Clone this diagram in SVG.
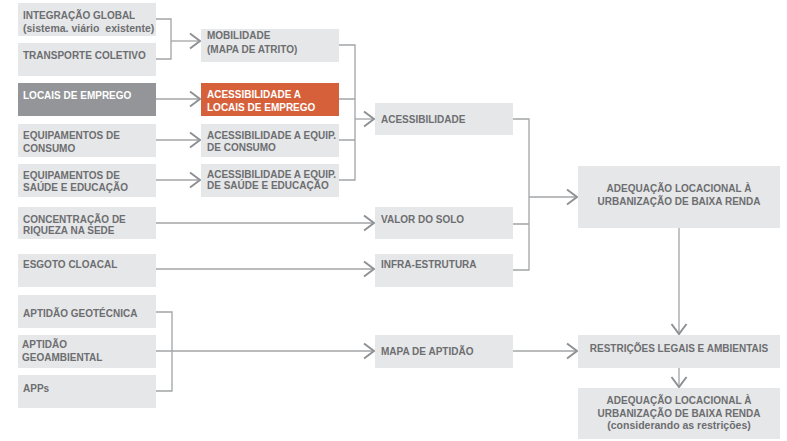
<svg xmlns="http://www.w3.org/2000/svg" width="787" height="441" viewBox="0 0 787 441">
<defs>
<style>
.b{fill:#e6e7e8}
.d{fill:#939598}
.o{fill:#d5603a}
text{font-family:"Liberation Sans",Arial,sans-serif;font-weight:bold;font-size:10px;fill:#6d6e71}
.w{fill:#ffffff}
.s{font-size:10.5px}
.c{text-anchor:middle}
.ln{fill:none;stroke:#a2a4a7;stroke-width:1.3}
.ar{fill:none;stroke:#a2a4a7;stroke-width:1.3;marker-end:url(#chev)}
</style>
<marker id="chev" markerUnits="userSpaceOnUse" markerWidth="14" markerHeight="18" refX="11" refY="8" orient="auto" overflow="visible">
<path d="M1,0.5 L11,8 L1,15.5" fill="none" stroke="#8f9194" stroke-width="2"/>
</marker>
</defs>
<rect width="787" height="441" fill="#ffffff"/>

<g id="connectors">
<path class="ln" d="M156,19 H171 V59 H156"/>
<path class="ar" d="M171,41 H200"/>
<path class="ar" d="M156,99 H200"/>
<path class="ar" d="M156,140 H200"/>
<path class="ar" d="M156,180 H200"/>
<path class="ln" d="M339,45 H355 V180 H339 M339,99 H355 M339,140 H355"/>
<path class="ar" d="M355,119 H374"/>
<path class="ar" d="M156,223 H374"/>
<path class="ar" d="M156,269 H374"/>
<path class="ln" d="M156,312 H172 V391 H156"/>
<path class="ar" d="M156,351 H374"/>
<path class="ln" d="M513,119 H529 V270 H513 M513,224 H529"/>
<path class="ar" d="M529,197 H577"/>
<path class="ar" d="M679,228 V334"/>
<path class="ar" d="M513,351 H577"/>
<path class="ar" d="M679,368 V387"/>
</g>

<g id="integracao-global"><rect class="b" x="18" y="3" width="138" height="33"/><text x="23" y="19">INTEGRAÇÃO GLOBAL</text><text class="s" x="23" y="32" xml:space="preserve">(sistema. viário  existente)</text></g>
<g id="transporte-coletivo"><rect class="b" x="18" y="43" width="138" height="33"/><text x="23" y="59">TRANSPORTE COLETIVO</text></g>
<g id="locais-emprego"><rect class="d" x="18" y="83" width="138" height="33"/><text class="w" x="23" y="99">LOCAIS DE EMPREGO</text></g>
<g id="equip-consumo"><rect class="b" x="18" y="124" width="138" height="33"/><text x="23" y="139">EQUIPAMENTOS DE</text><text x="23" y="152">CONSUMO</text></g>
<g id="equip-saude"><rect class="b" x="18" y="164" width="138" height="33"/><text x="23" y="179">EQUIPAMENTOS DE</text><text x="23" y="191">SAÚDE E EDUCAÇÃO</text></g>
<g id="concentracao-riqueza"><rect class="b" x="18" y="207" width="138" height="32"/><text x="23" y="223">CONCENTRAÇÃO DE</text><text x="23" y="234">RIQUEZA NA SEDE</text></g>
<g id="esgoto-cloacal"><rect class="b" x="18" y="254" width="138" height="33"/><text x="23" y="268">ESGOTO CLOACAL</text></g>
<g id="aptidao-geotecnica"><rect class="b" x="18" y="295" width="138" height="33"/><text x="23" y="317">APTIDÃO GEOTÉCNICA</text></g>
<g id="aptidao-geoambiental"><rect class="b" x="18" y="335" width="138" height="33"/><text x="22" y="348">APTIDÃO</text><text x="22" y="361">GEOAMBIENTAL</text></g>
<g id="apps"><rect class="b" x="18" y="375" width="138" height="33"/><text x="23" y="392">APPs</text></g>

<g id="mobilidade"><rect class="b" x="201" y="29" width="138" height="33"/><text x="207" y="39">MOBILIDADE</text><text x="207" y="53">(MAPA DE ATRITO)</text></g>
<g id="acess-locais-emprego"><rect class="o" x="201" y="83" width="138" height="33"/><text class="w" x="207" y="98">ACESSIBILIDADE A</text><text class="w" x="207" y="111">LOCAIS DE EMPREGO</text></g>
<g id="acess-equip-consumo"><rect class="b" x="201" y="124" width="138" height="33"/><text x="207" y="139">ACESSIBILIDADE A EQUIP.</text><text x="207" y="151">DE CONSUMO</text></g>
<g id="acess-equip-saude"><rect class="b" x="201" y="164" width="138" height="33"/><text x="207" y="178">ACESSIBILIDADE A EQUIP.</text><text x="207" y="189">DE SAÚDE E EDUCAÇÃO</text></g>

<g id="acessibilidade"><rect class="b" x="375" y="103" width="138" height="32"/><text x="381" y="123">ACESSIBILIDADE</text></g>
<g id="valor-solo"><rect class="b" x="375" y="207" width="138" height="32"/><text x="381" y="223">VALOR DO SOLO</text></g>
<g id="infra-estrutura"><rect class="b" x="375" y="254" width="138" height="33"/><text x="381" y="268">INFRA-ESTRUTURA</text></g>
<g id="mapa-aptidao"><rect class="b" x="375" y="335" width="138" height="33"/><text x="381" y="355">MAPA DE APTIDÃO</text></g>

<g id="adequacao"><rect class="b" x="578" y="166" width="202" height="62"/><text class="c" x="679" y="192">ADEQUAÇÃO LOCACIONAL À</text><text class="c" x="679" y="205">URBANIZAÇÃO DE BAIXA RENDA</text></g>
<g id="restricoes"><rect class="b" x="578" y="335" width="202" height="33"/><text class="c" x="679" y="352">RESTRIÇÕES LEGAIS E AMBIENTAIS</text></g>
<g id="adequacao-restricoes"><rect class="b" x="578" y="388" width="202" height="51"/><text class="c" x="679" y="404">ADEQUAÇÃO LOCACIONAL À</text><text class="c" x="679" y="417">URBANIZAÇÃO DE BAIXA RENDA</text><text class="c s" x="679" y="429">(considerando as restrições)</text></g>
</svg>
